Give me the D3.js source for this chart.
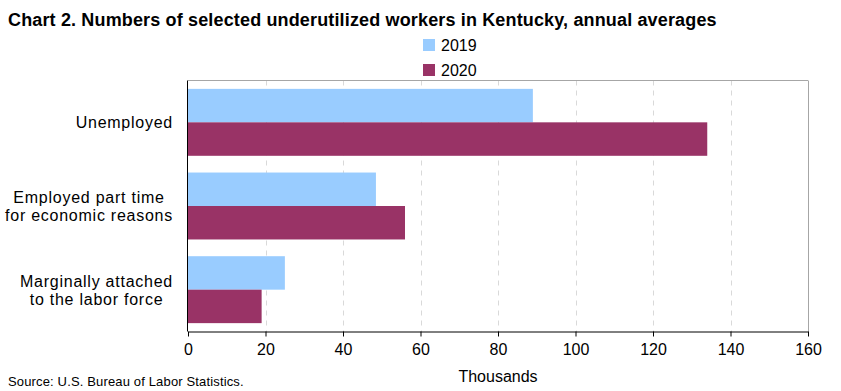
<!DOCTYPE html>
<html><head><meta charset="utf-8">
<script src="https://cdn.jsdelivr.net/npm/d3@7"></script>
<style>body{margin:0;background:#fff;} svg{display:block;font-family:"Liberation Sans",Arial,sans-serif;}</style>
</head><body>
<svg id="c" width="841" height="391"></svg>
<script>
const categories = [
  ["Unemployed"],
  ["Employed part time", "for economic reasons"],
  ["Marginally attached", "to the labor force"]
];
const seriesNames = ["2019", "2020"];
const values2019 = [89, 48.5, 25];
const values2020 = [134, 56, 19];
const xTicks = [0, 20, 40, 60, 80, 100, 120, 140, 160];
const colors = ["#99ccff", "#993366"];

const svg = d3.select("#c");
const m = {l: 188, r: 808, t: 80.5, b: 331.5};
const x = d3.scaleLinear().domain([0, 160]).range([m.l, m.r]);
const y = d3.scaleBand().domain(d3.range(categories.length)).range([m.t, m.b]).paddingInner(0.2).paddingOuter(0.1);
const y1 = d3.scaleBand().domain(seriesNames).range([0, y.bandwidth()]);

// title
svg.append("text").attr("x", 8).attr("y", 25.5).attr("font-weight", "bold").attr("font-size", 18)
  .attr("letter-spacing", 0.15)
  .attr("fill", "#000").text("Chart 2. Numbers of selected underutilized workers in Kentucky, annual averages");

// grid
svg.append("g").selectAll("line").data(xTicks.filter(d => d > 0 && d < 160)).join("line")
  .attr("x1", d => Math.round(x(d)) + 0.5).attr("x2", d => Math.round(x(d)) + 0.5).attr("y1", m.t).attr("y2", m.b)
  .attr("stroke", "#d9d9d9").attr("stroke-dasharray", "5,5");

// frame top/right
svg.append("line").attr("x1", m.l).attr("x2", m.r).attr("y1", m.t).attr("y2", m.t).attr("stroke", "#a6a6a6");
svg.append("line").attr("x1", m.r + 0.5).attr("x2", m.r + 0.5).attr("y1", m.t).attr("y2", m.b).attr("stroke", "#a6a6a6");

// bars
const series = [values2019, values2020];
const g = svg.append("g");
categories.forEach((c, i) => {
  series.forEach((vals, s) => {
    g.append("rect").attr("x", x(0)).attr("y", y(i) + y1(seriesNames[s]))
      .attr("width", x(vals[i]) - x(0)).attr("height", y1.bandwidth()).attr("fill", colors[s]);
  });
});

// x axis
const xAxis = d3.axisBottom(x).tickValues(xTicks).tickSize(5).tickSizeOuter(0).tickPadding(7);
const ax = svg.append("g").attr("transform", `translate(0,${m.b})`).call(xAxis);
ax.select(".domain").attr("stroke", "#000");
ax.selectAll(".tick line").attr("stroke", "#000");
ax.selectAll(".tick text").attr("font-size", 16).attr("fill", "#000").attr("font-family", "Liberation Sans, Arial, sans-serif");

// y axis line
svg.append("line").attr("x1", m.l - 0.5).attr("x2", m.l - 0.5).attr("y1", m.t).attr("y2", m.b).attr("stroke", "#000");

// category labels
const lh = 18;
categories.forEach((lines, i) => {
  const t = svg.append("text").attr("font-size", 16).attr("letter-spacing", 0.75).attr("fill", "#000").attr("text-anchor", "middle");
  const cy = y(i) + y.bandwidth() / 2;
  lines.forEach((ln, k) => {
    t.append("tspan").attr("y", cy + 6 + (k - (lines.length - 1) / 2) * lh).text(ln);
  });
  let maxW = 0;
  t.selectAll("tspan").each(function(){ maxW = Math.max(maxW, this.getComputedTextLength()); });
  t.selectAll("tspan").attr("x", 173 - maxW / 2);
});

// legend
seriesNames.forEach((s, k) => {
  const ly = 39 + k * 25;
  svg.append("rect").attr("x", 423).attr("y", ly).attr("width", 12).attr("height", 12).attr("fill", colors[k]);
  svg.append("text").attr("x", 441).attr("y", ly + 12).attr("font-size", 16).attr("fill", "#000").text(s);
});

// axis title
svg.append("text").attr("x", (m.l + m.r) / 2).attr("y", 382).attr("text-anchor", "middle")
  .attr("font-size", 16).attr("fill", "#000").text("Thousands");

// source
svg.append("text").attr("x", 8).attr("y", 386).attr("font-size", 13).attr("letter-spacing", 0.15).attr("fill", "#000")
  .text("Source: U.S. Bureau of Labor Statistics.");
</script>
</body></html>
